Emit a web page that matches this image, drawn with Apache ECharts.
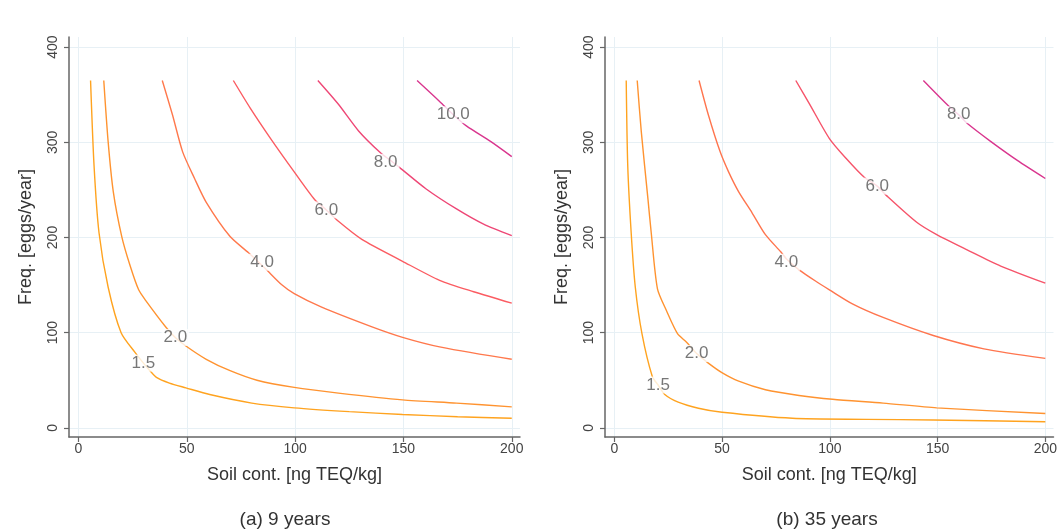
<!DOCTYPE html>
<html>
<head>
<meta charset="utf-8">
<script src="https://cdn.jsdelivr.net/npm/echarts@6/dist/echarts.min.js"></script>
<style>
html,body{margin:0;padding:0;background:#fff;}
#chart{width:1060px;height:532px;}
</style>
</head>
<body>
<div id="chart"></div>
<script>
// ---------- data ----------
const xTicks = [0, 50, 100, 150, 200];
const yTicks = [0, 100, 200, 300, 400];
const xTitle = 'Soil cont. [ng TEQ/kg]';
const yTitle = 'Freq. [eggs/year]';
const panelTitles = ['(a) 9 years', '(b) 35 years'];

// Panel (a) 9 years: contour lines [soil, freq]
const levelsA = ['1.5', '2.0', '4.0', '6.0', '8.0', '10.0'];
const a15 = [[5.6,365],[7.2,276],[9.5,205],[13.7,148],[19.7,100],[26.2,79],[30,68],[33,60],[36,53],[42,47],[49.6,42],[60.6,35],[80,26],[99.6,21],[125,17],[149.6,14],[175,11.7],[200,10]];
const a20 = [[11.7,365],[13.7,301],[16.1,248],[20,201],[23.9,170],[27.8,145],[31,134],[40.3,106],[44.7,95],[49.6,86],[59,72],[70,60],[82.4,50],[99.6,42.5],[120,36.5],[149.6,29.4],[174.5,26],[200,22]];
const a40 = [[38.7,365],[43.4,329],[48.1,290],[53.6,262],[59,237],[70,201],[78.5,184],[86,168],[94,150],[99.6,141],[112,127],[135.5,106],[149.6,95],[166.7,85],[200,72]];
const a60 = [[71.5,365],[79.3,336],[88.7,304],[99.6,269],[109,240],[114.4,229],[120,217],[130.8,198],[149.6,175],[166.7,155],[182.4,143],[200,131]];
const a80 = [[110.5,365],[120,340],[129.3,312],[139.4,289],[144,281],[148,274],[160.5,251],[174.5,230],[187,214],[200,202]];
const a100 = [[156.3,365],[166.7,343],[173,329],[179.2,317],[190.2,301],[200,285]];
const labelsA = [[30,68],[44.7,95],[84.8,174],[114.4,229],[141.8,279],[173,329]];

// Panel (b) 35 years
const levelsB = ['1.5', '2.0', '4.0', '6.0', '8.0'];
const b15 = [[5.5,365],[6.2,276],[7.8,205],[9.7,148],[12.8,99],[17.6,54],[20.3,45],[23.4,35],[29.6,27],[39,20.6],[50,16.3],[82.6,10],[117,8.9],[148,8.2],[200,6.4]];
const b20 = [[10.6,365],[12.5,311],[15.6,240],[17.1,205],[20,146],[24.2,123],[29.3,99],[33.5,90],[38.2,78],[43.6,68],[49.9,58],[57.7,49],[70.1,40],[85.7,34],[101.3,30],[124.7,26],[149.6,21],[200,15]];
const b40 = [[39.3,365],[43.6,329],[49.1,290],[53,269],[57.7,248],[63.9,226],[70.1,203],[77.2,185],[80.5,176],[85.7,166],[93.5,154],[99.8,145],[110.7,130],[124.7,116],[148,97],[171.5,83],[200,73]];
const b60 = [[84.2,365],[90.4,341],[99.8,304],[107.6,283],[116.1,263],[122,254],[126.3,244],[140.3,216],[149.6,203],[163.7,187],[179.3,170],[200,152]];
const b80 = [[143.4,365],[154.3,340],[159.8,329],[163.7,320],[174.6,301],[187,281],[200,262]];
const labelsB = [[20.3,45],[38.2,78],[79.8,174],[122,254],[159.8,329]];

// ---------- styles ----------
const colorsA = ['#ffa31f', '#ff9330', '#ff784c', '#fb5c62', '#ee4776', '#d9368e'];
const colorsB = ['#ffa31f', '#ff9330', '#ff754e', '#f6546a', '#d9368e'];
const FONT = 'Liberation Sans, Arial, sans-serif';

function axisPair(gridIndex) {
  const x = {
    type: 'value', gridIndex: gridIndex, min: -4.35, max: 203.8,
    axisLine: {show: true, onZero: false, lineStyle: {color: '#666', width: 1.5}},
    axisTick: {show: true, length: 5, customValues: xTicks, lineStyle: {color: '#666', width: 1.2}},
    axisLabel: {customValues: xTicks, margin: 5, fontSize: 14, color: '#444', fontFamily: FONT},
    splitLine: {show: true, lineStyle: {color: '#e7f0f5', width: 1}},
    name: xTitle, nameLocation: 'middle', nameGap: 29,
    nameTextStyle: {fontSize: 18, color: '#333', fontFamily: FONT}
  };
  const y = {
    type: 'value', gridIndex: gridIndex, min: -9.65, max: 410.7,
    axisLine: {show: true, onZero: false, lineStyle: {color: '#666', width: 1.5}},
    axisTick: {show: true, length: 5, customValues: yTicks, lineStyle: {color: '#666', width: 1.2}},
    axisLabel: {customValues: yTicks, rotate: 90, margin: 9, fontSize: 14, color: '#444', fontFamily: FONT},
    splitLine: {show: true, lineStyle: {color: '#e7f0f5', width: 1}},
    name: yTitle, nameLocation: 'middle', nameGap: 34,
    nameTextStyle: {fontSize: 18, color: '#333', fontFamily: FONT}
  };
  return [x, y];
}

function panelSeries(idx, lines, colors, levels, labelPts) {
  const out = [];
  lines.forEach(function (d, i) {
    out.push({
      type: 'line', xAxisIndex: idx, yAxisIndex: idx, data: d,
      showSymbol: false, symbol: 'none', smooth: 0.25, silent: true, z: 2,
      lineStyle: {color: colors[i], width: 1.4}
    });
  });
  out.push({
    type: 'scatter', xAxisIndex: idx, yAxisIndex: idx, symbolSize: 0.1, z: 5, silent: true,
    data: labelPts.map(function (p, i) { return {value: p, name: levels[i]}; }),
    label: {
      show: true, position: 'inside', formatter: '{b}',
      fontSize: 17, color: '#555', fontFamily: FONT,
      backgroundColor: '#fff', padding: [0, 2, 0, 2]
    }
  });
  return out;
}

const axA = axisPair(0), axB = axisPair(1);
const option = {
  animation: false,
  backgroundColor: '#fff',
  grid: [
    {left: 69, top: 37, width: 451, height: 400, containLabel: false},
    {left: 605, top: 37, width: 451, height: 400, containLabel: false}
  ],
  xAxis: [axA[0], axB[0]],
  yAxis: [axA[1], axB[1]],
  graphic: [
    {type: 'text', x: 285, y: 520, style: {text: panelTitles[0], fontSize: 19, fill: '#333', fontFamily: FONT, align: 'center', verticalAlign: 'middle'}},
    {type: 'text', x: 827, y: 520, style: {text: panelTitles[1], fontSize: 19, fill: '#333', fontFamily: FONT, align: 'center', verticalAlign: 'middle'}}
  ],
  series: [].concat(
    panelSeries(0, [a15, a20, a40, a60, a80, a100], colorsA, levelsA, labelsA),
    panelSeries(1, [b15, b20, b40, b60, b80], colorsB, levelsB, labelsB)
  )
};
const chart = echarts.init(document.getElementById('chart'), null, {renderer: 'canvas'});
chart.setOption(option);
</script>
</body>
</html>
